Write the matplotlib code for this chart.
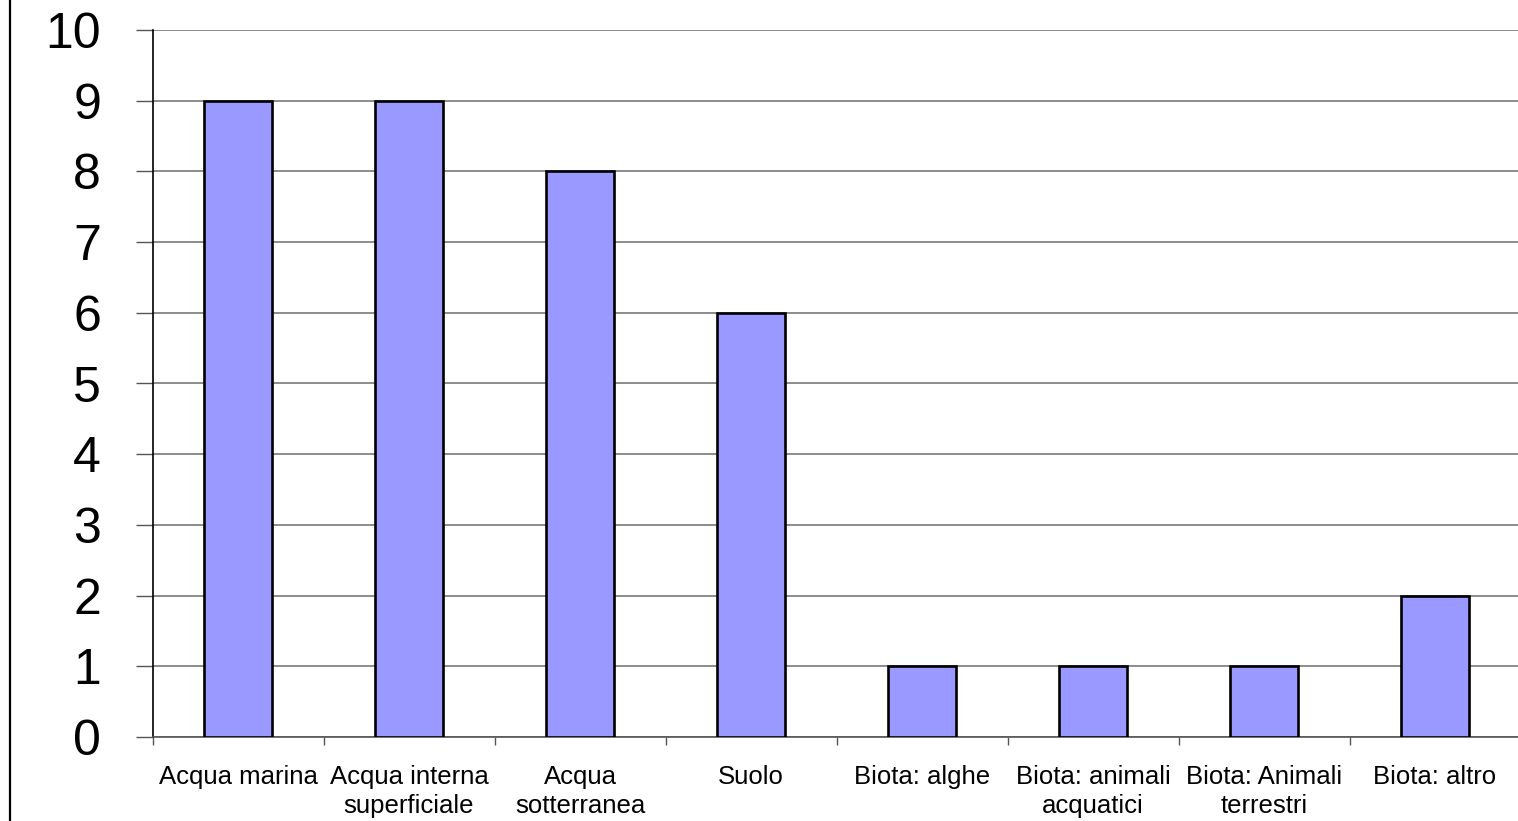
import matplotlib
matplotlib.use("Agg")
import matplotlib.pyplot as plt
from matplotlib.lines import Line2D
import numpy as np

categories = ["Acqua marina", "Acqua interna\nsuperficiale", "Acqua\nsotterranea", "Suolo",
              "Biota: alghe", "Biota: animali\nacquatici", "Biota: Animali\nterrestri", "Biota: altro"]
values = [9, 9, 8, 6, 1, 1, 1, 2]
yticks = list(range(0, 11))

plt.rcParams['font.family'] = ['Liberation Sans', 'DejaVu Sans']

W, H = 1518, 821
fig = plt.figure(figsize=(W / 100, H / 100), dpi=100)
ax = fig.add_axes([152.5 / W, 84 / H, 1368 / W, 707 / H])

x = np.arange(len(categories))
ax.bar(x, values, width=0.4, color="#9999FF", edgecolor="black", linewidth=1.9, zorder=3)

ax.set_xlim(-0.5, len(categories) - 0.5)
ax.set_ylim(0, 10)
ax.set_yticks(yticks)
ax.set_yticklabels([str(v) for v in yticks], fontsize=36)
ax.yaxis.grid(True, color="#8c8c8c", linewidth=1.4, zorder=0)
ax.set_axisbelow(True)

ax.set_xticks(x)
ax.set_xticklabels(categories, fontsize=18.5, linespacing=1.25)
ax.set_xticks(np.arange(-0.5, len(categories)), minor=True)
ax.tick_params(axis="x", which="major", length=0, pad=20)
ax.tick_params(axis="x", which="minor", length=6, width=1, color="#555555")
ax.tick_params(axis="y", length=12, width=1, color="#555555", pad=25)

for s in ["top", "right"]:
    ax.spines[s].set_visible(False)
ax.spines["left"].set_color("black")
ax.spines["left"].set_linewidth(1.2)
ax.spines["bottom"].set_color("#555555")
ax.spines["bottom"].set_linewidth(1.2)

fig.add_artist(Line2D([9.5 / W, 9.5 / W], [0, 1], transform=fig.transFigure,
                      color="black", linewidth=1.6))

fig.savefig("out.png", dpi=100)
